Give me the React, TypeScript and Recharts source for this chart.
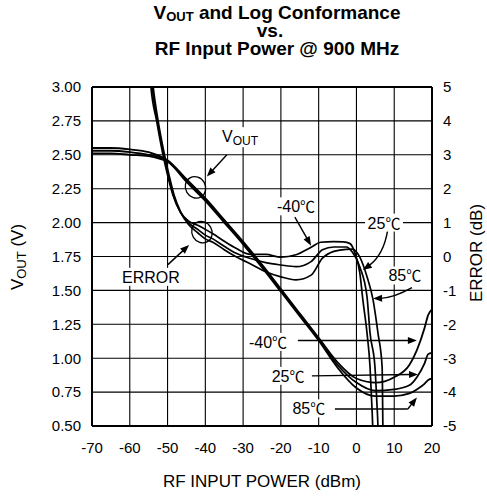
import React from 'react';
import {
  ComposedChart,
  Line,
  XAxis,
  YAxis,
  CartesianGrid,
  ReferenceLine,
  ReferenceDot,
} from 'recharts';

// ---------- data ----------
const powerDbm = [-70, -65, -60, -55, -52, -50, -45, -40, -35, -30, -25, -20, -15, -10, -5, 0, 5, 10, 14, 16, 18, 19, 20];
const voutM40 = [2.55, 2.55, 2.54, 2.52, 2.49, 2.46, 2.32, 2.18, 2.02, 1.86, 1.69, 1.51, 1.33, 1.15, 0.97, 0.85, 0.82, 0.86, 0.95, 1.06, 1.22, 1.32, 1.36];
const vout25 = [2.53, 2.53, 2.52, 2.5, 2.48, 2.45, 2.31, 2.17, 2.01, 1.85, 1.68, 1.5, 1.32, 1.14, 0.95, 0.82, 0.76, 0.77, 0.8, 0.86, 0.96, 1.03, 1.04];
const vout85 = [2.51, 2.51, 2.5, 2.49, 2.47, 2.45, 2.3, 2.16, 2.0, 1.84, 1.67, 1.49, 1.31, 1.13, 0.93, 0.78, 0.72, 0.72, 0.74, 0.77, 0.81, 0.84, 0.85];

const errM40X = [-56, -54.4, -52.9, -51.3, -50, -48.6, -46.7, -44.5, -42, -40, -38, -35, -32, -28, -24, -20, -16, -12, -9.5, -6, -3.5, -1.7, -0.4, 0.9, 1.7, 2.8, 3.6, 4.0, 4.3, 4.6];
const errM40 = [8, 5.0, 4.0, 3.05, 2.4, 1.82, 1.33, 1.05, 0.92, 0.8, 0.67, 0.45, 0.25, 0.06, 0.06, -0.02, 0.05, 0.27, 0.42, 0.44, 0.43, 0.38, 0.1, -0.49, -1.28, -2.26, -3.26, -4.2, -5.0, -6.5];
const err25X = [-56, -54.1, -52.7, -51.1, -49.8, -48.5, -46.6, -44.5, -42, -40, -38, -35, -32, -28, -24, -20, -16, -12, -9, -6, -2.7, -1.1, 0.9, 2.8, 3.6, 4.9, 5.4, 5.7, 6.0];
const err25 = [8, 5.0, 4.0, 3.05, 2.4, 1.82, 1.3, 1.0, 0.8, 0.63, 0.52, 0.3, 0.1, -0.06, -0.18, -0.25, -0.3, -0.15, 0.2, 0.28, 0.28, 0.13, -0.31, -1.19, -2.26, -3.26, -4.3, -5.03, -6.5];
const err85X = [-56, -53.8, -52.5, -50.9, -49.6, -48.3, -46.4, -44.5, -42, -40, -38, -35, -32, -28, -24, -20, -16, -12, -9, -6, -4.4, -1.1, 0.9, 2.8, 4.4, 5.7, 6.8, 7.0, 7.2];
const err85 = [8, 5.0, 4.0, 3.05, 2.4, 1.82, 1.28, 0.95, 0.7, 0.52, 0.42, 0.2, 0.0, -0.22, -0.45, -0.6, -0.69, -0.55, -0.05, 0.15, 0.19, 0.22, -0.02, -0.6, -1.28, -2.26, -3.26, -5.03, -6.5];

const xTicks = [-70, -60, -50, -40, -30, -20, -10, 0, 10, 20];
const leftTicks = [0.5, 0.75, 1.0, 1.25, 1.5, 1.75, 2.0, 2.25, 2.5, 2.75, 3.0];
const rightTicks = [-5, -4, -3, -2, -1, 0, 1, 2, 3, 4, 5];

// annotation anchors (dBm, VOUT axis)
const tempLabels = [
  { x: -16.0, y: 2.12, temp: '-40', w: 44 },
  { x: 7.3, y: 2.0, temp: '25', w: 38 },
  { x: 12.8, y: 1.61, temp: '85', w: 38 },
  { x: -23.4, y: 1.12, temp: '-40', w: 44 },
  { x: -18.1, y: 0.87, temp: '25', w: 38 },
  { x: -12.6, y: 0.63, temp: '85', w: 38 },
];
const arrows = [
  { from: [-34.3, 2.5], to: [-39.6, 2.34], bow: 0 },
  { from: [-49.9, 1.69], to: [-44.3, 1.835], bow: 0 },
  { from: [-16.3, 2.04], to: [-12.0, 1.83], bow: 0 },
  { from: [8.3, 1.95], to: [1.7, 1.65], bow: -10 },
  { from: [14.7, 1.52], to: [4.4, 1.44], bow: -5 },
  { from: [-15.5, 1.13], to: [16.0, 1.13], bow: 0 },
  { from: [-11.8, 0.87], to: [16.3, 0.88], bow: 0 },
  { from: [13.6, 0.625], to: [16.0, 0.71], bow: 0 },
];
const plainSegments = [{ from: [-5.7, 0.625], to: [13.6, 0.625] }];
const ellipses = [
  { x: -42.6, y: 2.26 },
  { x: -40.9, y: 1.93 },
];

const zip = (xs: number[], ys: number[], key: string) => xs.map((p, i) => ({ p, [key]: ys[i] }));
const voutM40Data = zip(powerDbm, voutM40, 'v');
const vout25Data = zip(powerDbm, vout25, 'v');
const vout85Data = zip(powerDbm, vout85, 'v');
const errM40Data = zip(errM40X, errM40, 'e');
const err25Data = zip(err25X, err25, 'e');
const err85Data = zip(err85X, err85, 'e');

const FONT = 'Arial, "Liberation Sans", Helvetica, sans-serif';
const CJK = '"Noto Sans CJK JP", "Noto Sans CJK SC", sans-serif';

const arrowShape = (bow: number) => (p: any) => {
  const { x1, y1, x2, y2 } = p;
  const dx = x2 - x1;
  const dy = y2 - y1;
  const len = Math.hypot(dx, dy) || 1;
  let ang: number;
  let d: string;
  const L = 9;
  const W = 3.5;
  if (bow) {
    const mx = (x1 + x2) / 2 + (-dy / len) * bow;
    const my = (y1 + y2) / 2 + (dx / len) * bow;
    ang = Math.atan2(y2 - my, x2 - mx);
    const ex = x2 - L * 0.8 * Math.cos(ang);
    const ey = y2 - L * 0.8 * Math.sin(ang);
    d = `M${x1},${y1} Q${mx},${my} ${ex},${ey}`;
  } else {
    ang = Math.atan2(dy, dx);
    const ex = x2 - L * 0.8 * Math.cos(ang);
    const ey = y2 - L * 0.8 * Math.sin(ang);
    d = `M${x1},${y1} L${ex},${ey}`;
  }
  const c = Math.cos(ang);
  const s = Math.sin(ang);
  const bx = x2 - L * c;
  const by = y2 - L * s;
  const pts = `${x2},${y2} ${bx + W * s},${by - W * c} ${bx - W * s},${by + W * c}`;
  return (
    <g>
      <path d={d} fill="none" stroke="#000" strokeWidth={1.4} />
      <polygon points={pts} fill="#000" />
    </g>
  );
};

const labelShape = (temp: string, w: number) => (p: any) => {
  const { cx, cy } = p;
  return (
    <g>
      <rect x={cx - w / 2} y={cy - 9} width={w} height={18} fill="#fff" />
      <text x={cx} y={cy + 6} textAnchor="middle" fontSize={16} fontFamily={FONT} fill="#000">
        {temp}
        <tspan fontFamily={CJK} fontSize={15}>℃</tspan>
      </text>
    </g>
  );
};

const voutLabelShape = (p: any) => {
  const { cx, cy } = p;
  return (
    <g>
      <rect x={cx - 22} y={cy - 10} width={44} height={20} fill="#fff" />
      <text x={cx - 20} y={cy + 5} fontSize={16} fontFamily={FONT} fill="#000">
        V<tspan fontSize={12} dy={3}>OUT</tspan>
      </text>
    </g>
  );
};

const errorLabelShape = (p: any) => {
  const { cx, cy } = p;
  return (
    <g>
      <rect x={cx - 33} y={cy - 9} width={66} height={18} fill="#fff" />
      <text x={cx} y={cy + 6} textAnchor="middle" fontSize={16} fontFamily={FONT} fill="#000">
        ERROR
      </text>
    </g>
  );
};

const ellipseShape = (p: any) => {
  const { cx, cy } = p;
  return (
    <ellipse
      cx={cx}
      cy={cy}
      rx={10}
      ry={11}
      transform={`rotate(-30 ${cx} ${cy})`}
      fill="none"
      stroke="#000"
      strokeWidth={1.3}
    />
  );
};

const tickStyle = { fill: '#000', fontSize: 15, fontFamily: FONT };

export default function App() {
  return (
    <div style={{ position: 'absolute', left: 0, top: 0, width: 487, height: 496, background: '#fff' }}>
      <ComposedChart width={487} height={496} margin={{ top: 87, right: 15, bottom: 20, left: 32 }}>
        <CartesianGrid yAxisId="left" stroke="#000" strokeWidth={1.1} strokeOpacity={1} />
        <XAxis
          type="number"
          dataKey="p"
          domain={[-70, 20]}
          ticks={xTicks}
          interval={0}
          height={50}
          tickLine={false}
          tick={tickStyle}
          tickMargin={10}
          axisLine={{ stroke: '#000', strokeWidth: 2 }}
          allowDuplicatedCategory={false}
        />
        <YAxis
          yAxisId="left"
          type="number"
          domain={[0.5, 3]}
          ticks={leftTicks}
          interval={0}
          width={60}
          tickLine={false}
          tick={tickStyle}
          tickMargin={5}
          tickFormatter={(v: number) => v.toFixed(2)}
          axisLine={{ stroke: '#000', strokeWidth: 2 }}
        />
        <YAxis
          yAxisId="right"
          orientation="right"
          type="number"
          domain={[-5, 5]}
          ticks={rightTicks}
          interval={0}
          width={40}
          allowDataOverflow
          tickLine={false}
          tick={tickStyle}
          tickMargin={5}
          axisLine={{ stroke: '#000', strokeWidth: 2 }}
        />
        <ReferenceLine yAxisId="left" y={3} stroke="#000" strokeWidth={2} />

        {tempLabels.map((l, i) => (
          <ReferenceDot key={'tl' + i} yAxisId="left" x={l.x} y={l.y} shape={labelShape(l.temp, l.w)} />
        ))}
        <ReferenceDot yAxisId="left" x={-30.3} y={2.63} shape={voutLabelShape} />
        <ReferenceDot yAxisId="left" x={-54.4} y={1.6} shape={errorLabelShape} />

        <Line data={voutM40Data} dataKey="v" yAxisId="left" type="monotone" stroke="#000" strokeWidth={1.8} dot={false} isAnimationActive={false} />
        <Line data={vout25Data} dataKey="v" yAxisId="left" type="monotone" stroke="#000" strokeWidth={1.8} dot={false} isAnimationActive={false} />
        <Line data={vout85Data} dataKey="v" yAxisId="left" type="monotone" stroke="#000" strokeWidth={1.8} dot={false} isAnimationActive={false} />
        <Line data={errM40Data} dataKey="e" yAxisId="right" type="monotone" stroke="#000" strokeWidth={1.7} dot={false} isAnimationActive={false} />
        <Line data={err25Data} dataKey="e" yAxisId="right" type="monotone" stroke="#000" strokeWidth={1.7} dot={false} isAnimationActive={false} />
        <Line data={err85Data} dataKey="e" yAxisId="right" type="monotone" stroke="#000" strokeWidth={1.7} dot={false} isAnimationActive={false} />

        {arrows.map((a, i) => (
          <ReferenceLine
            key={'ar' + i}
            yAxisId="left"
            segment={[{ x: a.from[0], y: a.from[1] }, { x: a.to[0], y: a.to[1] }]}
            shape={arrowShape(a.bow)}
          />
        ))}
        {plainSegments.map((s, i) => (
          <ReferenceLine
            key={'ps' + i}
            yAxisId="left"
            segment={[{ x: s.from[0], y: s.from[1] }, { x: s.to[0], y: s.to[1] }]}
            stroke="#000"
            strokeWidth={1.4}
          />
        ))}
        {ellipses.map((e, i) => (
          <ReferenceDot key={'el' + i} yAxisId="left" x={e.x} y={e.y} shape={ellipseShape} />
        ))}
      </ComposedChart>

      <svg width={487} height={496} style={{ position: 'absolute', left: 0, top: 0, pointerEvents: 'none' }}>
        <g fontFamily={FONT} fontWeight="bold" fontSize={19} textAnchor="middle" fill="#000">
          <text x={277} y={19}>
            V<tspan fontSize={13} dy={2}>OUT</tspan>
            <tspan dy={-2}> and Log Conformance</tspan>
          </text>
          <text x={270} y={37}>vs.</text>
          <text x={277} y={55}>RF Input Power @ 900 MHz</text>
        </g>
        <text x={262} y={487} textAnchor="middle" fontSize={17} fontFamily={FONT} fill="#000">
          RF INPUT POWER (dBm)
        </text>
        <text
          x={0}
          y={0}
          transform="translate(23 257) rotate(-90)"
          textAnchor="middle"
          fontSize={17}
          fontFamily={FONT}
          fill="#000"
        >
          V<tspan fontSize={13} dy={3}>OUT</tspan>
          <tspan dy={-3}> (V)</tspan>
        </text>
        <text
          x={0}
          y={0}
          transform="translate(482 253) rotate(-90)"
          textAnchor="middle"
          fontSize={17}
          fontFamily={FONT}
          fill="#000"
        >
          ERROR (dB)
        </text>
      </svg>
    </div>
  );
}
